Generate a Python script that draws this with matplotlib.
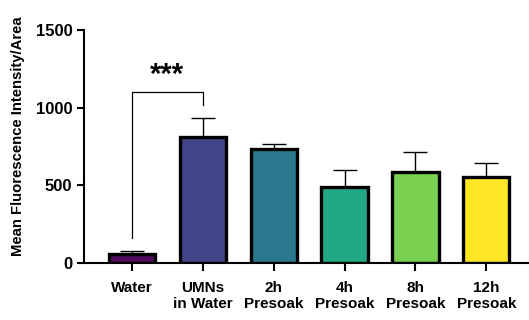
import matplotlib
matplotlib.use('Agg')
import matplotlib.pyplot as plt

plt.rcParams['font.family'] = ['Liberation Sans', 'DejaVu Sans']
plt.rcParams['font.weight'] = 'bold'

# data
groups = ['Water', 'UMNs\nin Water', '2h\nPresoak', '4h\nPresoak', '8h\nPresoak', '12h\nPresoak']
means = [60, 812, 737, 490, 585, 551]
sem = [17, 119, 30, 112, 131, 90]
colors = ['#4d0a5c', '#414487', '#2a788e', '#22a884', '#7ad151', '#fde725']

fig = plt.figure(figsize=(5.29, 3.2), dpi=100)
ax = fig.add_axes([0.159, 0.178, 0.841, 0.728])

x = list(range(len(groups)))
ax.bar(x, means, width=0.65, color=colors, edgecolor='black', linewidth=2.4, zorder=2)
ax.errorbar(x, means, yerr=[[0] * len(sem), sem], fmt='none', ecolor='black',
            elinewidth=1.0, capsize=8.5, capthick=1.0, zorder=1)

# significance bracket between Water and UMNs
ax.plot([0, 0, 1, 1], [164, 1103, 1103, 1017], color='black', lw=0.9)
ax.text(0.5, 1120, '***', ha='center', va='bottom', fontsize=21, fontweight='bold')

ax.set_xlim(-0.67, 5.6)
ax.set_ylim(0, 1500)
ax.set_yticks([0, 500, 1000, 1500])
ax.set_xticks(x)
ax.set_xticklabels(groups, fontsize=11, fontweight='bold', linespacing=1.15)
ax.tick_params(axis='y', labelsize=12, width=1.5, length=5)
ax.tick_params(axis='x', width=1.5, length=6, pad=7)
for lab in ax.get_yticklabels():
    lab.set_fontweight('bold')
ax.set_ylabel('Mean Fluorescence Intensity/Area', fontsize=10.7, fontweight='bold')
ax.yaxis.set_label_coords(-0.132, 0.545)

ax.spines['top'].set_visible(False)
ax.spines['right'].set_visible(False)
ax.spines['left'].set_linewidth(1.5)
ax.spines['bottom'].set_linewidth(1.5)

fig.savefig('out.png', dpi=100)
